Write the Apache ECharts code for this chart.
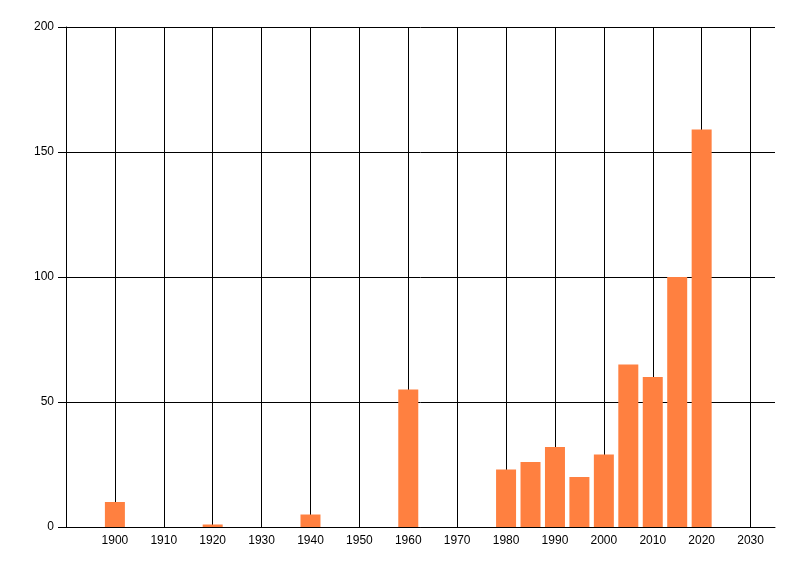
<!DOCTYPE html>
<html>
<head>
<meta charset="utf-8">
<script src="https://cdn.jsdelivr.net/npm/echarts@6/dist/echarts.min.js"></script>
<style>html,body{margin:0;padding:0;background:#fff}#c{width:800px;height:576px}</style>
</head>
<body>
<div id="c"></div>
<script>
const years = [1900, 1920, 1940, 1960, 1980, 1985, 1990, 1995, 2000, 2005, 2010, 2015, 2020];
const values = [10, 1, 5, 55, 23, 26, 32, 20, 29, 65, 60, 100, 159];
const yTicks = [0, 50, 100, 150, 200];

const chart = echarts.init(document.getElementById('c'));
const font = 'Liberation Sans, Arial, sans-serif';
chart.setOption({
  animation: false,
  backgroundColor: '#fff',
  grid: { left: 66, right: 25, top: 27, bottom: 49, containLabel: false },
  xAxis: {
    type: 'value', min: 1890, max: 2035, interval: 10,
    axisLine: { show: true, lineStyle: { color: '#000', width: 1 } },
    axisTick: { show: false },
    axisLabel: {
      color: '#000', fontSize: 12, fontFamily: font, margin: 8,
      showMinLabel: false, showMaxLabel: false,
      formatter: v => (v % 10 === 0 && v > 1890 && v <= 2030) ? String(v) : ''
    },
    splitLine: { show: true, showMinLine: true, showMaxLine: false, lineStyle: { color: '#000', width: 1 } }
  },
  yAxis: {
    type: 'value', min: yTicks[0], max: yTicks[yTicks.length - 1], interval: 50,
    axisLine: { show: true, lineStyle: { color: '#000', width: 1 } },
    axisTick: { show: true, length: 8, lineStyle: { color: '#000' } },
    axisLabel: { color: '#000', fontSize: 12, fontFamily: font, margin: 12 },
    splitLine: { show: true, lineStyle: { color: '#000', width: 1 } }
  },
  series: [{
    type: 'bar',
    barWidth: 20,
    itemStyle: { color: '#FF8040' },
    data: years.map((y, i) => [y, values[i]])
  }]
});
</script>
</body>
</html>
